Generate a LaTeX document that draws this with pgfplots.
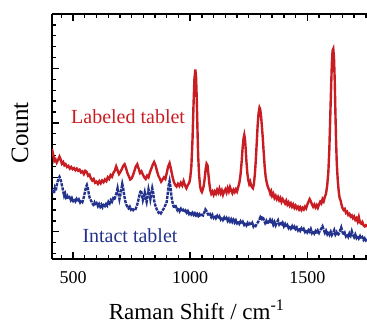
\documentclass[border=0pt]{standalone}
\usepackage{pgfplots}
\pgfplotsset{compat=1.18}
\usepackage{fontspec}
\setmainfont{Liberation Serif}
\definecolor{lred}{RGB}{200,30,35}
\definecolor{lblue}{RGB}{35,50,140}
\begin{document}
\begin{tikzpicture}
\begin{axis}[
  scale only axis, width=157.5pt, height=122.5pt,
  xmin=410, xmax=1755, ymin=-0.5, ymax=4,
  axis x line=box, axis y line=left,
  axis line style={line width=1pt,-},
  xtick={500,1000,1500},
  minor xtick={450,500,...,1750},
  ytick={0,1,2,3,4}, yticklabels={},
  minor ytick={-0.4,-0.2,...,4},
  tick align=inside,
  major tick length=3.5pt, minor tick length=2pt,
  every tick/.style={black, line width=0.7pt},
  tick label style={font=\fontsize{9}{10}\selectfont},
  /pgf/number format/assume math mode=true,
  /pgf/number format/set thousands separator={},
  xticklabel style={yshift=-2.5pt},
  xlabel={Raman Shift / cm\textsuperscript{-1}},
  xlabel style={font=\fontsize{11.5}{13}\selectfont, at={(axis description cs:0.46,-0.245)}, anchor=base},
  ylabel={Count},
  ylabel style={font=\fontsize{12.5}{14}\selectfont, at={(axis description cs:-0.102,0.514)}, anchor=center},
  clip=true,
]
\addplot[lred, line width=1.2pt] coordinates {
(410,1.52)(415,1.42)(420,1.30)(425,1.33)(430,1.27)(436,1.32)(442,1.38)(447,1.33)(452,1.25)(458,1.28)
(463,1.22)(468,1.24)(474,1.19)(480,1.21)(486,1.16)(492,1.19)(498,1.15)(504,1.17)(510,1.13)(516,1.16)
(522,1.12)(528,1.14)(534,1.09)(540,1.11)(546,1.06)(552,1.12)(558,1.10)(564,1.03)(570,1.05)(576,0.98)
(582,0.94)(588,0.97)(594,0.90)(600,0.92)(606,0.88)(612,0.93)(618,0.89)(624,0.94)(630,0.91)(636,0.96)
(642,0.93)(648,1.00)(654,0.97)(660,1.04)(666,1.01)(672,1.08)(678,1.12)(684,1.20)(690,1.13)(696,1.06)
(702,1.10)(708,1.15)(714,1.21)(720,1.24)(726,1.17)(732,1.08)(738,1.02)(744,0.96)(750,0.98)(756,1.04)
(762,1.12)(768,1.20)(774,1.24)(780,1.16)(786,1.08)(792,1.11)(798,1.05)(804,1.00)(810,0.97)(816,1.03)
(822,1.00)(828,1.09)(834,1.16)(840,1.23)(846,1.28)(852,1.22)(858,1.12)(864,1.03)(870,0.98)(876,0.92)
(882,0.96)(888,1.00)(894,0.97)(900,1.08)(906,1.20)(912,1.26)(918,1.15)(924,1.02)(930,0.92)(936,0.86)
(942,0.83)(948,0.88)(954,0.84)(960,0.90)(966,0.85)(972,0.93)(978,0.85)(984,0.80)(990,0.86)(996,0.90)
(1000,0.98)(1005,1.20)(1010,1.70)(1014,2.30)(1018,2.80)(1022,2.98)(1025,2.85)(1028,2.45)(1031,1.90)(1034,1.40)
(1038,1.05)(1042,0.85)(1046,0.76)(1050,0.73)(1054,0.78)(1058,0.85)(1062,0.98)(1066,1.15)(1070,1.25)(1074,1.22)
(1078,1.05)(1082,0.88)(1086,0.76)(1090,0.70)(1095,0.74)(1100,0.68)(1105,0.74)(1110,0.70)(1115,0.77)(1120,0.72)
(1125,0.79)(1130,0.71)(1135,0.76)(1140,0.68)(1145,0.74)(1150,0.78)(1155,0.72)(1160,0.80)(1165,0.74)(1170,0.82)
(1175,0.76)(1180,0.71)(1185,0.77)(1190,0.73)(1195,0.78)(1200,0.74)(1205,0.82)(1210,0.90)(1215,1.05)(1220,1.30)
(1224,1.55)(1228,1.72)(1231,1.78)(1234,1.70)(1237,1.52)(1240,1.30)(1244,1.08)(1248,0.95)(1252,0.88)(1256,0.92)
(1260,0.85)(1264,0.82)(1268,0.80)(1272,0.88)(1276,1.05)(1280,1.30)(1284,1.62)(1288,1.95)(1292,2.18)(1296,2.28)
(1299,2.25)(1302,2.15)(1306,1.95)(1310,1.72)(1314,1.45)(1318,1.20)(1322,1.02)(1326,0.92)(1330,0.85)(1334,0.80)
(1338,0.76)(1342,0.70)(1346,0.74)(1350,0.66)(1355,0.70)(1360,0.62)(1365,0.66)(1370,0.60)(1375,0.64)(1380,0.58)
(1385,0.62)(1390,0.55)(1395,0.60)(1400,0.56)(1405,0.52)(1410,0.57)(1415,0.50)(1420,0.54)(1425,0.48)(1430,0.52)
(1435,0.46)(1440,0.50)(1445,0.44)(1450,0.48)(1455,0.43)(1460,0.46)(1465,0.41)(1470,0.45)(1475,0.40)(1480,0.44)
(1485,0.41)(1490,0.46)(1495,0.43)(1500,0.50)(1505,0.55)(1510,0.60)(1515,0.56)(1520,0.50)(1525,0.46)(1530,0.50)
(1535,0.45)(1540,0.49)(1545,0.44)(1550,0.50)(1555,0.55)(1560,0.52)(1565,0.60)(1570,0.56)(1575,0.64)(1580,0.70)
(1585,0.85)(1590,1.10)(1594,1.50)(1598,2.10)(1602,2.70)(1605,3.10)(1608,3.33)(1611,3.36)(1614,3.20)(1617,2.80)
(1620,2.20)(1623,1.65)(1626,1.25)(1630,0.95)(1634,0.75)(1638,0.62)(1642,0.58)(1646,0.50)(1650,0.44)(1655,0.40)
(1660,0.42)(1665,0.35)(1670,0.37)(1675,0.31)(1680,0.33)(1685,0.28)(1690,0.30)(1695,0.25)(1700,0.28)(1705,0.22)
(1710,0.25)(1715,0.19)(1720,0.27)(1725,0.17)(1730,0.15)(1735,0.18)(1740,0.12)(1745,0.10)(1750,0.12)(1755,0.09)
};
\addplot[lblue, line width=1.2pt, dash pattern=on 1.6pt off 0.5pt] coordinates {
(410,0.72)(414,0.78)(418,0.70)(422,0.80)(426,0.75)(430,0.85)(434,0.92)(438,0.98)(442,1.01)(446,0.97)
(450,0.90)(454,0.82)(458,0.74)(462,0.66)(466,0.70)(470,0.63)(475,0.66)(480,0.60)(485,0.63)(490,0.58)
(495,0.62)(500,0.57)(505,0.61)(510,0.56)(515,0.60)(520,0.55)(525,0.59)(530,0.54)(535,0.58)(540,0.55)
(545,0.62)(550,0.72)(555,0.82)(559,0.86)(563,0.80)(567,0.70)(571,0.62)(576,0.58)(581,0.53)(586,0.50)
(591,0.54)(596,0.48)(601,0.52)(606,0.47)(611,0.51)(616,0.46)(621,0.50)(626,0.45)(631,0.49)(636,0.47)
(641,0.51)(646,0.48)(651,0.55)(656,0.52)(661,0.58)(666,0.55)(671,0.61)(676,0.58)(681,0.66)(686,0.72)
(690,0.80)(694,0.70)(698,0.60)(702,0.68)(706,0.78)(710,0.88)(714,0.80)(718,0.68)(722,0.58)(727,0.50)
(732,0.46)(737,0.43)(742,0.46)(747,0.41)(752,0.44)(757,0.40)(762,0.43)(767,0.42)(772,0.47)(777,0.55)
(782,0.65)(786,0.72)(790,0.76)(794,0.68)(798,0.58)(802,0.64)(806,0.72)(810,0.62)(814,0.55)(818,0.66)
(822,0.78)(826,0.70)(830,0.60)(834,0.70)(838,0.80)(842,0.72)(846,0.58)(850,0.50)(855,0.44)(860,0.38)
(865,0.35)(870,0.37)(875,0.34)(880,0.38)(885,0.41)(890,0.45)(895,0.50)(900,0.55)(904,0.70)(908,0.85)
(912,0.93)(916,0.82)(920,0.65)(924,0.55)(928,0.48)(932,0.43)(936,0.50)(940,0.45)(945,0.40)(950,0.44)
(955,0.38)(960,0.42)(965,0.37)(970,0.40)(975,0.36)(980,0.39)(985,0.35)(990,0.38)(995,0.33)(1000,0.37)
(1005,0.32)(1010,0.35)(1015,0.31)(1020,0.34)(1025,0.30)(1030,0.33)(1035,0.29)(1040,0.32)(1045,0.28)(1050,0.31)
(1055,0.30)(1060,0.35)(1065,0.41)(1070,0.38)(1075,0.33)(1080,0.29)(1085,0.32)(1090,0.27)(1095,0.31)(1100,0.26)
(1105,0.30)(1110,0.25)(1115,0.29)(1120,0.24)(1125,0.28)(1130,0.23)(1135,0.27)(1140,0.22)(1145,0.26)(1150,0.21)
(1155,0.25)(1160,0.20)(1165,0.24)(1170,0.19)(1175,0.23)(1180,0.18)(1185,0.22)(1190,0.17)(1195,0.21)(1200,0.16)
(1205,0.20)(1210,0.15)(1215,0.19)(1220,0.14)(1225,0.18)(1230,0.13)(1235,0.17)(1240,0.12)(1245,0.16)(1250,0.11)
(1255,0.15)(1260,0.12)(1265,0.16)(1270,0.10)(1275,0.14)(1280,0.11)(1285,0.15)(1290,0.18)(1295,0.22)(1300,0.27)
(1305,0.24)(1310,0.28)(1315,0.21)(1320,0.16)(1325,0.20)(1330,0.14)(1335,0.19)(1340,0.22)(1345,0.15)(1350,0.20)
(1355,0.13)(1360,0.18)(1365,0.12)(1370,0.17)(1375,0.21)(1380,0.14)(1385,0.18)(1390,0.11)(1395,0.16)(1400,0.10)
(1405,0.14)(1410,0.08)(1415,0.12)(1420,0.07)(1425,0.11)(1430,0.06)(1435,0.10)(1440,0.04)(1445,0.09)(1450,0.05)
(1455,0.08)(1460,0.03)(1465,0.07)(1470,0.02)(1475,0.06)(1480,0.01)(1485,0.05)(1490,0.00)(1495,0.04)(1500,-0.01)
(1505,0.03)(1510,0.00)(1515,0.05)(1520,-0.02)(1525,0.02)(1530,-0.03)(1535,0.01)(1540,-0.04)(1545,0.02)(1550,-0.02)
(1555,0.03)(1560,0.06)(1565,0.10)(1570,0.04)(1575,-0.02)(1580,0.02)(1585,-0.04)(1590,0.01)(1595,-0.05)(1600,0.00)
(1605,-0.06)(1610,-0.02)(1615,0.03)(1620,-0.05)(1625,-0.01)(1630,-0.07)(1635,-0.03)(1640,0.02)(1645,0.08)(1650,0.00)
(1655,-0.06)(1660,-0.02)(1665,-0.08)(1670,-0.04)(1675,-0.09)(1680,-0.03)(1685,-0.07)(1690,0.01)(1695,-0.06)(1700,-0.10)
(1705,-0.05)(1710,-0.11)(1715,-0.07)(1720,-0.12)(1725,-0.08)(1730,-0.13)(1735,-0.10)(1740,-0.15)(1745,-0.12)(1750,-0.16)(1755,-0.14)
};
\node[lred, font=\fontsize{10}{12}\selectfont] at (axis cs:735,2.11) {Labeled tablet};
\node[lblue, font=\fontsize{10}{12}\selectfont] at (axis cs:743,-0.08) {Intact tablet};
\coordinate (bl) at (rel axis cs:0,0);
\coordinate (tr) at (rel axis cs:1,1);
\end{axis}
\pgfresetboundingbox
\path ([xshift=-26pt,yshift=-32.5pt]bl) rectangle ([yshift=7pt]tr);
\end{tikzpicture}
\end{document}
